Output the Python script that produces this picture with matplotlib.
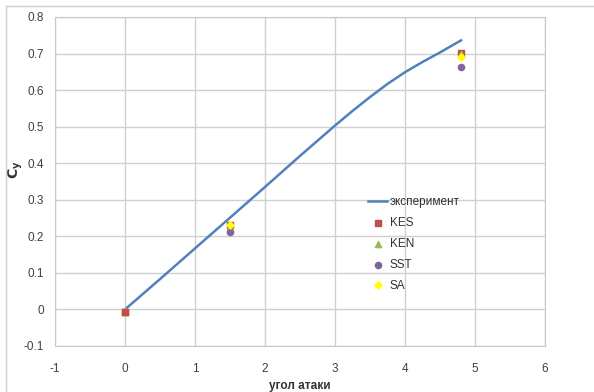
import numpy as np
import matplotlib
matplotlib.use('Agg')
import matplotlib.pyplot as plt

plt.rcParams['font.family'] = ['Liberation Sans', 'DejaVu Sans']

# experiment curve
exp_x = [0, 0.5, 1, 1.5, 2, 2.5, 3, 3.25, 3.5, 3.75, 4, 4.25, 4.5, 4.8]
exp_y = [0, 0.083, 0.167, 0.251, 0.335, 0.42, 0.503, 0.543, 0.581, 0.617, 0.649, 0.677, 0.703, 0.736]

# computed points
calc_x = [0, 1.5, 4.8]
kes = [-0.008, 0.231, 0.702]
ken = [-0.008, 0.223, 0.700]
sst = [-0.008, 0.212, 0.662]
sa = [-0.008, 0.230, 0.690]

xticks = [-1, 0, 1, 2, 3, 4, 5, 6]
yticks = [-0.1, 0, 0.1, 0.2, 0.3, 0.4, 0.5, 0.6, 0.7, 0.8]

fig = plt.figure(figsize=(5.94, 3.92), dpi=100)
ax = fig.add_axes([55/594, 46/392, 490/594, 329/392])

ax.plot(exp_x, exp_y, color='#4F81BD', lw=1.8, label='эксперимент', zorder=3)
ax.scatter(calc_x, kes, marker='s', s=20, color='#C0504D', label='KES', zorder=4)
ax.scatter(calc_x, ken, marker='^', s=20, color='#9BBB59', label='KEN', zorder=4)
ax.scatter(calc_x, sst, marker='o', s=20, color='#8064A2', label='SST', zorder=4)
ax.scatter(calc_x, sa, marker='D', s=14, color='#FFFF00', label='SA', zorder=5)
# redraw KES at zero on top
ax.scatter(calc_x[:1], kes[:1], marker='s', s=20, color='#C0504D', zorder=6)

ax.set_xlim(-1, 6)
ax.set_ylim(-0.1, 0.8)
ax.set_xticks(xticks)
ax.set_yticks(yticks)
ax.set_xticklabels([str(t) for t in xticks])
ax.set_yticklabels(['-0.1', '0', '0.1', '0.2', '0.3', '0.4', '0.5', '0.6', '0.7', '0.8'])
ax.tick_params(length=0, labelsize=8.5, colors='#404040', pad=8)
ax.tick_params(axis='x', pad=12)
ax.grid(True, color='#D0D0D0', lw=1)
ax.set_axisbelow(True)
for s in ax.spines.values():
    s.set_color('#C8C8C8')

ax.set_xlabel('угол атаки', fontsize=8.5, fontweight='bold', color='#333333', labelpad=4)
ax.set_ylabel('$\\mathbf{C_y}$', fontsize=10, color='#333333')
ax.yaxis.set_label_coords(-0.062, 0.535)

leg = ax.legend(loc='upper left', bbox_to_anchor=(0.63, 0.47), frameon=False,
                fontsize=8.5, handlelength=1.6, handletextpad=0.2, labelspacing=0.75,
                borderaxespad=0)
for t in leg.get_texts():
    t.set_color('#333333')

# outer chart border
fig.add_artist(plt.Line2D([6/594, 1], [1 - 6/392, 1 - 6/392], color='#D0D0D0', lw=1, transform=fig.transFigure))
fig.add_artist(plt.Line2D([6/594, 6/594], [0, 1 - 6/392], color='#D0D0D0', lw=1, transform=fig.transFigure))

fig.savefig('out.png', dpi=100)
